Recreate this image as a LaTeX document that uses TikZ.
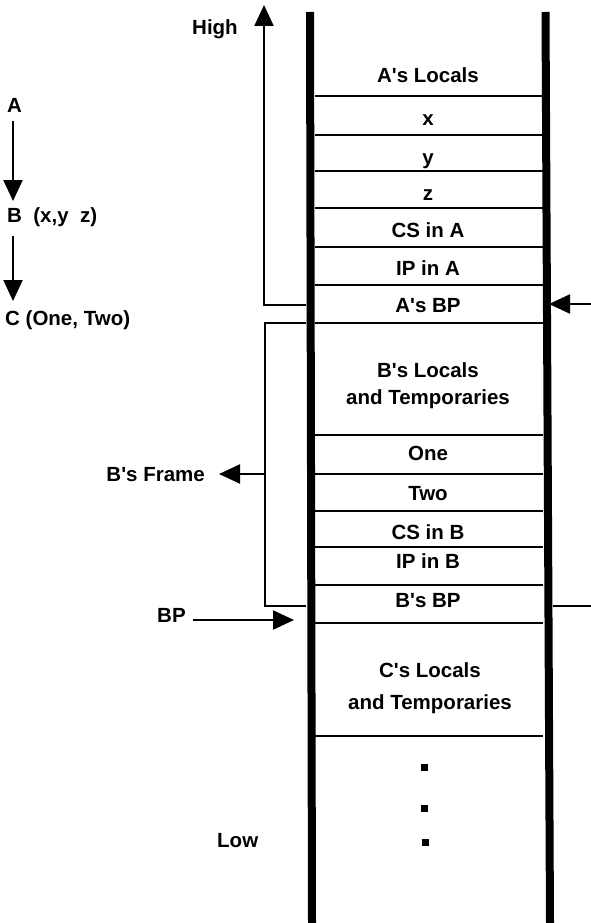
\documentclass[tikz,border=0pt]{standalone}
\usepackage{fontspec}
\setmainfont{Liberation Sans}
\usetikzlibrary{arrows.meta}
\newcommand{\ap}{\textquotesingle}
\begin{document}
\begin{tikzpicture}[x=1pt,y=-1pt,
  lbl/.style={font=\fontsize{20.5}{24}\selectfont\bfseries, inner sep=0pt, anchor=base},
  lbll/.style={lbl, anchor=base west},
  lblr/.style={lbl, anchor=base east},
  wall/.style={line width=8pt},
  thin/.style={line width=2.2pt},
  arr/.style={thin,-{Triangle[length=21pt,width=19pt]}},
  sq/.style={fill=black, minimum size=7pt, inner sep=0pt, rectangle}]
\useasboundingbox (0,0) rectangle (591,923);

% walls
\coordinate (LWt) at (310,12);
\coordinate (LWb) at (312,923);
\coordinate (RWt) at (545.5,12);
\coordinate (RWb) at (550,923);
\draw[wall] (LWt) -- (LWb);
\draw[wall] (RWt) -- (RWb);

% cell separators
\foreach \yy in {96,135,171,208,247,285,323,435,474,511,547,585,623,736}
  \draw[thin] (315,\yy) -- (543,\yy);

% cell texts
\node[lbl] (aloc) at (428,83) {A\ap s Locals};
\node[lbl] (vx) at (428,126) {x};
\node[lbl] (vy) at (428,164) {y};
\node[lbl] (vz) at (428,200) {z};
\node[lbl] (csa) at (428,237) {CS in A};
\node[lbl] (ipa) at (428,275) {IP in A};
\node[lbl] (abp) at (428,312) {A\ap s BP};
\node[lbl] (bloc1) at (428,377) {B\ap s Locals};
\node[lbl] (bloc2) at (428,404) {and Temporaries};
\node[lbl] (one) at (428,460) {One};
\node[lbl] (two) at (428,500) {Two};
\node[lbl] (csb) at (428,539) {CS in B};
\node[lbl] (ipb) at (428,568) {IP in B};
\node[lbl] (bbp) at (428,607) {B\ap s BP};
\node[lbl] (cloc1) at (430,677) {C\ap s Locals};
\node[lbl] (cloc2) at (430,709) {and Temporaries};
\node[sq] (d1) at (424,767) {};
\node[sq] (d2) at (424,808) {};
\node[sq] (d3) at (425,842) {};

% left labels
\node[lbll] (high) at (192,35) {High};
\node[lbll] (low) at (217,847) {Low};
\node[lbll] (na) at (7,113) {A};
\node[lbll] (nb) at (7,222) {B~~(x,y~~z)};
\node[lbll] (nc) at (5,325) {C (One, Two)};
\node[lblr] (bframe) at (205,481) {B\ap s Frame};
\node[lbll] (bp) at (157,622) {BP};

% call chain arrows
\coordinate (ab1) at (13,121);
\coordinate (ab2) at (13,201);
\coordinate (bc1) at (13,236);
\coordinate (bc2) at (13,301);
\draw[arr] (ab1) -- (ab2);
\draw[arr] (bc1) -- (bc2);

% A frame bracket with High arrow
\coordinate (ha) at (306,305);
\coordinate (hb) at (264,305);
\coordinate (hc) at (264,5);
\draw[arr] (ha) -- (hb) -- (hc);

% B frame bracket
\coordinate (f1) at (306,323);
\coordinate (f2) at (265,323);
\coordinate (f3) at (265,606);
\coordinate (f4) at (306,606);
\coordinate (fm) at (265,474);
\coordinate (ft) at (219,474);
\draw[thin] (f1) -- (f2) -- (f3) -- (f4);
\draw[arr] (fm) -- (ft);

% BP arrow
\coordinate (bps) at (193,620);
\coordinate (bpt) at (294,620);
\draw[arr] (bps) -- (bpt);

% right side pointers
\coordinate (r1s) at (591,304);
\coordinate (r1t) at (549,304);
\draw[arr] (r1s) -- (r1t);
\coordinate (r2s) at (553,606);
\coordinate (r2t) at (591,606);
\draw[thin] (r2s) -- (r2t);
\end{tikzpicture}
\end{document}
